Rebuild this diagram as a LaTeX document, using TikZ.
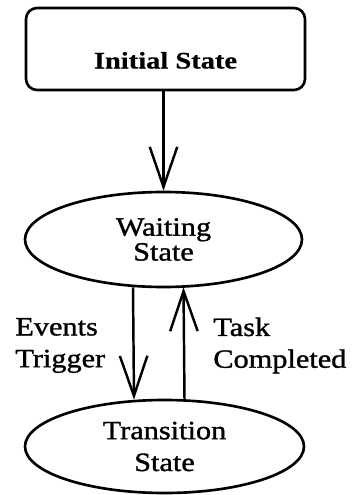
\documentclass[tikz,border=0pt]{standalone}
\usepackage{fontspec}
\newfontfamily\statefont{Liberation Serif}[FakeStretch=1.15,FakeBold=1.2]
\newfontfamily\boxfont{Liberation Serif}[FakeStretch=1.2,FakeBold=0.6]
\usepackage{tikz}
\usetikzlibrary{calc,positioning,shapes.geometric,arrows.meta}
\tikzset{
    startbox/.style={draw,rounded corners=0.22cm,line width=1.5pt,inner sep=0pt,
                     minimum width=5.58cm,minimum height=1.64cm,
                     text height=0.78cm,text depth=0cm,   % pushes the text below the middle
                     font=\boxfont\bfseries\fontsize{13.5}{16}\selectfont},
    stateoval/.style={draw,ellipse,line width=1.5pt,inner sep=0pt,align=center},
    move/.style={line width=1.4pt,-{Straight Barb[length=0.8cm,width=0.55cm]}},
    movelabel/.style={align=left,anchor=west,inner sep=0pt,
                      font=\statefont\fontsize{15}{18.1}\selectfont}
}

\begin{document}
\begin{tikzpicture}
                \useasboundingbox (0,0) rectangle (7.04,-9.9);

                \node[startbox] at (3.31,-0.98) (init) {Initial State};
                \node[stateoval,minimum width=5.54cm,minimum height=1.9cm,
                      font=\statefont\fontsize{15}{12.5}\selectfont] at (3.27,-4.79) (wait) {Waiting\\State};
                \node[stateoval,minimum width=5.58cm,minimum height=1.86cm,
                      font=\statefont\fontsize{15}{18.1}\selectfont] at (3.29,-8.93) (trans) {Transition\\State};

                \draw[move] (init.south -| wait.north) -- (wait.north);
                \draw[move] ([xshift=-0.61cm,yshift=0.02cm]wait.south) -- ([xshift=-0.61cm,yshift=-0.02cm]trans.north);
                \draw[move] ([xshift=0.40cm,yshift=-0.02cm]trans.north) -- ([xshift=0.40cm,yshift=0.02cm]wait.south);

                \node[movelabel] at (0.3,-6.91) (events) {Events\\Trigger};
                \node[movelabel] at (4.26,-6.91) (done) {Task\\Completed};
            \end{tikzpicture}
\end{document}
